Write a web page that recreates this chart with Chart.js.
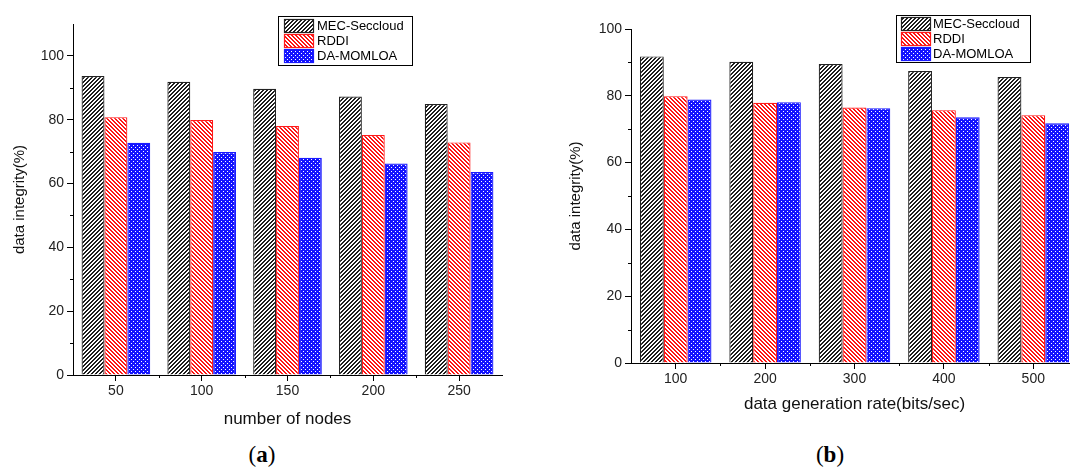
<!DOCTYPE html>
<html>
<head>
<meta charset="utf-8">
<script src="https://cdn.jsdelivr.net/npm/chart.js@4.4.1/dist/chart.umd.min.js"></script>
<style>
    html, body { margin: 0; padding: 0; background: #fff; width: 1070px; height: 468px; overflow: hidden; }
    canvas { position: absolute; top: 0; }
    .cap { position: absolute; top: 442px; font-family: "Liberation Serif", serif; font-size: 23px; color: #000; transform: translateX(-50%); }
</style>
</head>
<body>
<canvas id="chartA" width="512" height="430" style="left:0"></canvas>
<canvas id="chartB" width="530" height="415" style="left:556px"></canvas>
<div class="cap" style="left:262px">(<b>a</b>)</div>
<div class="cap" style="left:830px">(<b>b</b>)</div>
<script>
const seriesNames = ["MEC-Seccloud", "RDDI", "DA-MOMLOA"];

// (a) data integrity vs number of nodes
const nodeCounts = ["50", "100", "150", "200", "250"];
const mecByNodes = [93.7, 91.9, 89.7, 87.3, 84.9];
const rddiByNodes = [80.8, 79.9, 78.0, 75.2, 72.9];
const damomloaByNodes = [72.8, 69.9, 68.1, 66.3, 63.6];

// (b) data integrity vs data generation rate
const genRates = ["100", "200", "300", "400", "500"];
const mecByRate = [91.8, 90.2, 89.5, 87.4, 85.6];
const rddiByRate = [79.9, 77.9, 76.5, 75.7, 74.2];
const damomloaByRate = [78.9, 78.1, 76.3, 73.6, 71.8];

const yMaxA = 110, yMaxB = 100, yStep = 20;

// pixel hatch tiles, like the Origin fill patterns
function hatch(kind) {
    const s = 4;
    const c = document.createElement("canvas");
    c.width = s; c.height = s;
    const g = c.getContext("2d");
    const img = g.createImageData(s, s);
    for (let y = 0; y < s; y++) {
        for (let x = 0; x < s; x++) {
            let col = [255, 255, 255];
            if (kind === "black" && (x + y) % 4 < 2) col = [30, 30, 30];
            if (kind === "red" && (x - y + 8) % 4 < 2) col = [255, 20, 20];
            if (kind === "blue") {
                col = [20, 20, 255];
                if ((x === 1 && y === 1) || (x === 3 && y === 3)) col = [255, 255, 255];
            }
            const k = (y * s + x) * 4;
            img.data[k] = col[0]; img.data[k + 1] = col[1]; img.data[k + 2] = col[2]; img.data[k + 3] = 255;
        }
    }
    g.putImageData(img, 0, 0);
    return g.createPattern(c, "repeat");
}

const fills = [hatch("black"), hatch("red"), hatch("blue")];
const edges = ["#222", "#ff1a1a", "#1a1aff"];

function makeSets(lists) {
    return lists.map((vals, i) => ({
        label: seriesNames[i],
        data: vals,
        backgroundColor: fills[i],
        borderColor: edges[i],
        borderWidth: 1.2,
        borderSkipped: "bottom",
        categoryPercentage: 0.8,
        barPercentage: 1.0
    }));
}

// boxed legend sitting in the top of the plot
const boxLegend = {
    id: "boxLegend",
    afterDraw(chart, args, o) {
        const ctx = chart.ctx, a = chart.chartArea;
        const x = Math.round(a.left + o.dx), y = Math.round(a.top + o.dy);
        ctx.save();
        ctx.fillStyle = "#fff";
        ctx.fillRect(x, y, o.w, o.h);
        ctx.strokeStyle = "#000"; ctx.lineWidth = 1;
        ctx.strokeRect(x + 0.5, y + 0.5, o.w, o.h);
        ctx.font = "13px 'Liberation Sans', Arial, sans-serif";
        ctx.textBaseline = "middle";
        chart.data.datasets.forEach((ds, i) => {
            const ry = y + o.top + i * 15;
            ctx.fillStyle = ds.backgroundColor;
            ctx.fillRect(x + o.sx, ry, 29, 13);
            ctx.strokeStyle = ds.borderColor; ctx.lineWidth = 1.2;
            ctx.strokeRect(x + o.sx + 0.5, ry + 0.5, 29, 13);
            ctx.fillStyle = "#000";
            ctx.fillText(ds.label, x + o.tx, ry + 7);
        });
        ctx.restore();
    }
};

// short ticks between the major ones
const minorTicks = {
    id: "minorTicks",
    afterDraw(chart) {
        const ctx = chart.ctx, a = chart.chartArea;
        const xs = chart.scales.x, ys = chart.scales.y;
        ctx.save();
        ctx.strokeStyle = "#000"; ctx.lineWidth = 1;
        ctx.beginPath();
        for (let v = yStep / 2; v < ys.max; v += yStep) {
            const py = Math.round(ys.getPixelForValue(v)) + 0.5;
            ctx.moveTo(a.left - 3, py); ctx.lineTo(a.left, py);
        }
        for (let i = 0; i < xs.ticks.length - 1; i++) {
            const px = Math.round((xs.getPixelForValue(i) + xs.getPixelForValue(i + 1)) / 2) + 0.5;
            ctx.moveTo(px, a.bottom); ctx.lineTo(px, a.bottom + 3);
        }
        ctx.stroke();
        ctx.restore();
    }
};

const tickFont = { family: "'Liberation Sans', Arial, sans-serif", size: 14 };

function makeChart(id, labels, lists, yMax, xTitle, geo) {
    return new Chart(document.getElementById(id), {
        type: "bar",
        data: { labels, datasets: makeSets(lists) },
        options: {
            responsive: false,
            animation: false,
            layout: { padding: { left: 11, top: geo.top, right: geo.right, bottom: 0 } },
            plugins: {
                legend: { display: false },
                tooltip: { enabled: false },
                boxLegend: geo.legend
            },
            scales: {
                x: {
                    afterFit: s => { s.height = geo.xh; },
                    border: { display: true, color: "#000", width: 1 },
                    grid: { display: true, drawOnChartArea: false, drawTicks: true, tickLength: 6, color: "#000", offset: false },
                    ticks: { color: "#222", font: tickFont, padding: 2 },
                    title: { display: true, text: xTitle, color: "#111", font: { family: "'Liberation Sans', Arial, sans-serif", size: 17 }, padding: 0 }
                },
                y: {
                    min: 0, max: yMax,
                    afterFit: s => { s.width = geo.yw; },
                    afterBuildTicks: s => { s.ticks = s.ticks.filter(t => t.value % yStep === 0); },
                    border: { display: true, color: "#000", width: 1 },
                    grid: { display: true, drawOnChartArea: false, drawTicks: true, tickLength: 6, color: "#000" },
                    ticks: { stepSize: yStep, color: "#222", font: tickFont, padding: 3 },
                    title: { display: true, text: "data integrity(%)", color: "#111", font: { family: "'Liberation Sans', Arial, sans-serif", size: 15 }, padding: 0 }
                }
            }
        },
        plugins: [boxLegend, minorTicks]
    });
}

makeChart("chartA", nodeCounts, [mecByNodes, rddiByNodes, damomloaByNodes], yMaxA, "number of nodes",
    { top: 24, right: 10, xh: 55, yw: 62, legend: { dx: 205, dy: -8, w: 134, h: 49, sx: 6, tx: 39, top: 3 } });

makeChart("chartB", genRates, [mecByRate, rddiByRate, damomloaByRate], yMaxB, "data generation rate(bits/sec)",
    { top: 29, right: 8, xh: 52, yw: 64, legend: { dx: 265, dy: -14, w: 134, h: 47, sx: 5, tx: 37, top: 2 } });
</script>
</body>
</html>
